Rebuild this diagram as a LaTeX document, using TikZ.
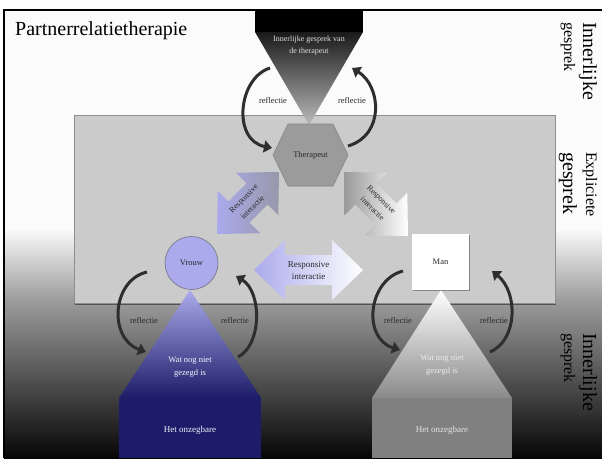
\documentclass[tikz,border=0pt]{standalone}
\usepackage{fontspec}
\setmainfont{Liberation Serif}
\usetikzlibrary{calc,arrows.meta,shadows}
\definecolor{bgwhite}{HTML}{FBFBFB}
\definecolor{bgmid}{HTML}{9C9C9C}
\definecolor{bgdark}{HTML}{060606}
\definecolor{panel}{HTML}{CBCBCB}
\definecolor{panelborder}{HTML}{8E8E8E}
\definecolor{hexfill}{HTML}{9B9B9B}
\definecolor{hexborder}{HTML}{858585}
\definecolor{arrowdark}{HTML}{2E2E2E}
\definecolor{lav}{HTML}{AAAAEC}
\definecolor{lavborder}{HTML}{7A7A8E}
\definecolor{lavmid}{HTML}{8585CC}
\definecolor{navy}{HTML}{1C1C68}
\definecolor{greymid}{HTML}{E4E4E4}
\definecolor{greybot}{HTML}{8A8A8A}
\definecolor{greyrect}{HTML}{808080}
\definecolor{bluegrey}{HTML}{9898AA}
\definecolor{txtdark}{HTML}{2A2A2A}
\newcommand\dblarr[3]{%
\path[#3] (#1)
 -- ($(#1)!31pt!(#2)!30pt!90:(#2)$)
 -- ($(#1)!31pt!(#2)!15pt!90:(#2)$)
 -- ($(#2)!31pt!(#1)!15pt!-90:(#1)$)
 -- ($(#2)!31pt!(#1)!30pt!-90:(#1)$)
 -- (#2)
 -- ($(#2)!31pt!(#1)!30pt!90:(#1)$)
 -- ($(#2)!31pt!(#1)!15pt!90:(#1)$)
 -- ($(#1)!31pt!(#2)!15pt!-90:(#2)$)
 -- ($(#1)!31pt!(#2)!30pt!-90:(#2)$)
 -- cycle;}
\tikzset{
  lbl/.style={font=\fontsize{8.5}{10}\selectfont, text=txtdark, inner sep=0pt, align=center},
  diaglbl/.style={font=\fontsize{8}{12.5}\selectfont, text=txtdark, inner sep=0pt, align=center},
  wlbl/.style={font=\fontsize{8.5}{13}\selectfont, inner sep=0pt, align=center},
  refl/.style={line width=3pt, draw=arrowdark, -{Triangle[length=8pt,width=12pt]}},
  side/.style={inner sep=0pt, rotate=-90, anchor=base west},
  big/.style={font=\fontsize{20}{24}\selectfont},
  small/.style={font=\fontsize{16}{19}\selectfont},
}
\begin{document}
\begin{tikzpicture}[x=1pt,y=-1pt]
\useasboundingbox (0,0) rectangle (602,458);
% background
\fill[white] (0,0) rectangle (602,458);
\fill[bgwhite] (4,10) rectangle (602,228);
\shade[top color=bgwhite, bottom color=bgmid] (4,228) rectangle (602,300);
\shade[top color=bgmid, bottom color=bgdark] (4,300) rectangle (602,458);
\draw[line width=2pt] (4,458) -- (4,10) -- (602,10);
% title
\node[inner sep=0pt, anchor=base west, font=\fontsize{20}{24}\selectfont] (title) at (15,35) {Partnerrelatietherapie};
% panel
\draw[fill=panel, draw=panelborder, line width=0.8pt,
  drop shadow={shadow xshift=1.2pt, shadow yshift=-1.5pt, opacity=0.45, fill=black}] (74,115) rectangle (555,303);
% top inner conversation
\fill[black] (255,10) rectangle (363,32);
\shade[top color=black!90, middle color=black!62, bottom color=black!27] (255,32) -- (363,32) -- (309,125) -- cycle;
\node[wlbl, text=white!88!black, font=\fontsize{8}{12}\selectfont] (tinner) at (309,46) {Innerlijke gesprek van\\de therapeut};
% therapist hexagon
\draw[fill=hexfill, draw=hexborder, line width=0.6pt] (273,155) -- (288,124) -- (333,124) -- (348,155) -- (333,186) -- (288,186) -- cycle;
\node[lbl] (therapeut) at (310.5,155) {Therapeut};
% reflection arrows therapist
\coordinate (t1s) at (270,68); \coordinate (t1e) at (272,148);
\coordinate (t2s) at (348,146); \coordinate (t2e) at (352,68);
\draw[refl] (t1s) .. controls (238,78) and (232,140) .. (t1e);
\draw[refl] (t2s) .. controls (385,135) and (381,86) .. (t2e);
\node[lbl] (rt1) at (273,101) {reflectie};
\node[lbl] (rt2) at (352,101) {reflectie};
% responsive interaction arrows
\coordinate (la1) at (217,234); \coordinate (la2) at (279,172);
\coordinate (ra1) at (344,172); \coordinate (ra2) at (408,236);
\coordinate (ha1) at (254,270); \coordinate (ha2) at (363,270);
\dblarr{la1}{la2}{left color=lav, right color=bluegrey}
\dblarr{ra1}{ra2}{left color=black!40, right color=white}
\dblarr{ha1}{ha2}{left color=lav, right color=white}
\node[diaglbl, rotate=45] (ltxt) at (248,203) {Responsive\\interactie};
\node[diaglbl, rotate=-45] (rtxt) at (377,204) {Responsive\\interactie};
\node[lbl, font=\fontsize{9}{12}\selectfont] (htxt) at (308.5,271) {Responsive\\interactie};
% lower shapes
\shade[top color=lav, middle color=lavmid, bottom color=navy] (190,290) -- (261,398) -- (119,398) -- cycle;
\fill[navy] (119,398) rectangle (261,458);
\shade[top color=white, middle color=greymid, bottom color=greybot] (441,290) -- (512,398) -- (372,398) -- cycle;
\fill[greyrect] (372,398) rectangle (512,458);
\node[wlbl, text=white!88!lav] (wv) at (190,367) {Wat nog niet\\gezegd is};
\node[wlbl, text=white!92!black] (wm) at (442,365) {Wat nog niet\\gezegd is};
\node[wlbl, text=white!85!lav, font=\fontsize{9}{12}\selectfont] (hv) at (190,430) {Het onzegbare};
\node[wlbl, text=white!90!black, font=\fontsize{9}{12}\selectfont] (hm) at (442,430) {Het onzegbare};
% partners
\node[lbl, circle, minimum size=53pt, fill=lav, draw=lavborder, line width=0.7pt] (vrouw) at (191.5,263) {Vrouw};
\node[lbl, minimum width=57pt, minimum height=56pt, fill=white,
  drop shadow={shadow xshift=1pt, shadow yshift=-1.2pt, opacity=0.35, fill=black}] (man) at (440.5,262) {Man};
% reflection arrows partners
\coordinate (v1s) at (147,272); \coordinate (v1e) at (146,352);
\coordinate (v2s) at (238,357); \coordinate (v2e) at (236,276);
\coordinate (m1s) at (403,271); \coordinate (m1e) at (400,350);
\coordinate (m2s) at (490,352); \coordinate (m2e) at (492,271);
\draw[refl] (v1s) .. controls (112,280) and (108,338) .. (v1e);
\draw[refl] (v2s) .. controls (262,345) and (262,292) .. (v2e);
\draw[refl] (m1s) .. controls (368,280) and (362,338) .. (m1e);
\draw[refl] (m2s) .. controls (518,340) and (518,292) .. (m2e);
\node[lbl] (rv1) at (144,321) {reflectie};
\node[lbl] (rv2) at (235,321) {reflectie};
\node[lbl] (rm1) at (398,321) {reflectie};
\node[lbl] (rm2) at (494,321) {reflectie};
% side labels
\node[side, big] (s1a) at (583,22) {Innerlijke};
\node[side, small] (s1b) at (564,22) {gesprek};
\node[side, small] (s2a) at (586,152) {Expliciete};
\node[side, big] (s2b) at (563,152) {gesprek};
\node[side, big] (s3a) at (583,333) {Innerlijke};
\node[side, small] (s3b) at (564,333) {gesprek};
\end{tikzpicture}
\end{document}
